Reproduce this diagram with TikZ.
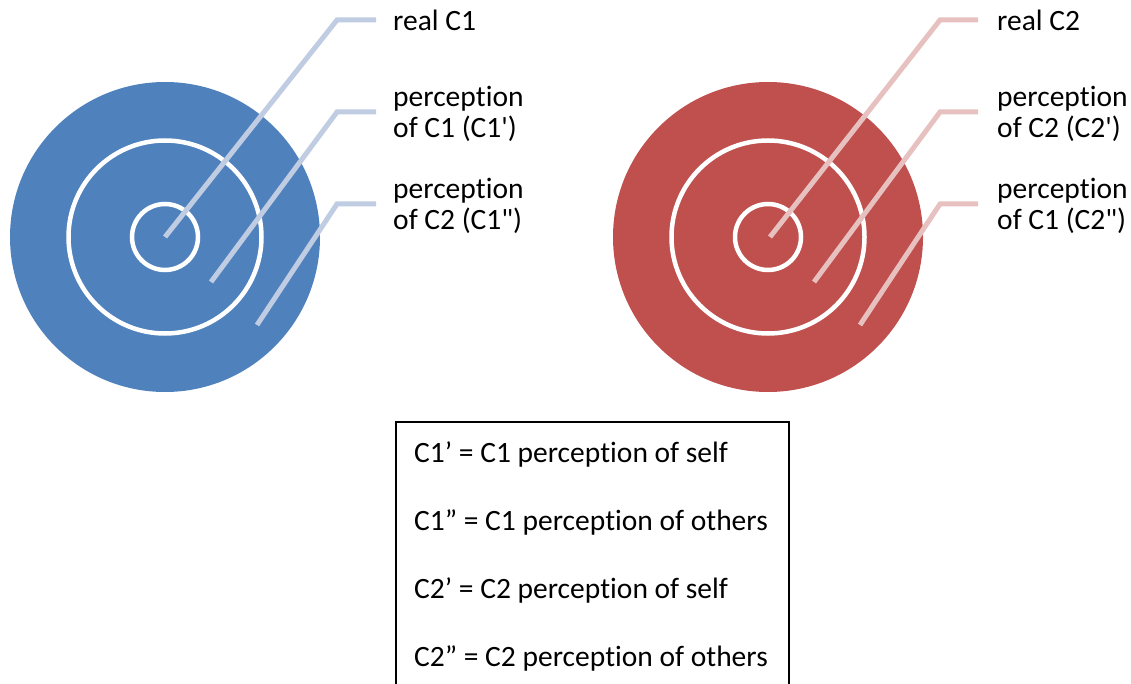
\documentclass[tikz,border=0pt]{standalone}
\usepackage{fontspec}
\setmainfont{Carlito}[Ligatures={TeXOff,NoCommon,NoRare,NoContextual,NoDiscretionary},Contextuals=NoAlternate]
\definecolor{bluefill}{HTML}{4F81BD}
\definecolor{redfill}{HTML}{C0504D}
\definecolor{blueline}{HTML}{BFCCE2}
\definecolor{redline}{HTML}{E6C1C0}
\newcommand{\tiword}{percep\kern0pt tion}
\tikzset{
  disc/.style={circle, inner sep=0pt, minimum size=310pt},
  ring/.style={draw=white, line width=4.5pt},
  leader/.style={line width=5pt, line cap=butt, line join=miter},
  lab/.style={anchor=west, align=left, inner sep=0pt, font=\fontsize{29.5}{31}\selectfont},
  leg/.style={anchor=base west, inner sep=0pt, font=\fontsize{29.5}{31}\selectfont}
}
\begin{document}
\begin{tikzpicture}[x=1pt,y=-1pt]
\useasboundingbox (0,0) rectangle (1131,684);
\clip (0,0) rectangle (1131,684);
% blue target
\node[disc, fill=bluefill] (B) at (165,237) {};
\draw[ring] (B.center) circle (96.5);
\draw[ring] (B.center) circle (33);
% red target
\node[disc, fill=redfill] (R) at (768,237) {};
\draw[ring] (R.center) circle (96.5);
\draw[ring] (R.center) circle (33);
% blue labels
\node[lab] (b1) at (393,20) {real C1};
\node[lab] (b2) at (393,114) {\tiword\\of C1 (C1')};
\node[lab] (b3) at (393,206) {\tiword\\of C2 (C1")};
\coordinate (bs1) at (165,237);
\coordinate (bs2) at (211,282);
\coordinate (bs3) at (257,325);
\draw[leader, blueline] (bs1) -- (337,20) -- (376,20);
\draw[leader, blueline] (bs2) -- (337,112) -- (376,112);
\draw[leader, blueline] (bs3) -- (337,204) -- (376,204);
% red labels
\node[lab] (r1) at (997,20) {real C2};
\node[lab] (r2) at (997,114) {\tiword\\of C2 (C2')};
\node[lab] (r3) at (997,206) {\tiword\\of C1 (C2")};
\coordinate (rs1) at (770,237);
\coordinate (rs2) at (814,282);
\coordinate (rs3) at (860,325);
\draw[leader, redline] (rs1) -- (940,20) -- (978,20);
\draw[leader, redline] (rs2) -- (940,112) -- (978,112);
\draw[leader, redline] (rs3) -- (940,204) -- (978,204);
% legend
\draw[line width=2pt, black] (396,422) rectangle (789,720);
\node[leg] (l1) at (414,462) {C1’ = C1 \tiword{} of self};
\node[leg] (l2) at (414,530) {C1” = C1 \tiword{} of others};
\node[leg] (l3) at (414,598) {C2’ = C2 \tiword{} of self};
\node[leg] (l4) at (414,666) {C2” = C2 \tiword{} of others};
\end{tikzpicture}
\end{document}
